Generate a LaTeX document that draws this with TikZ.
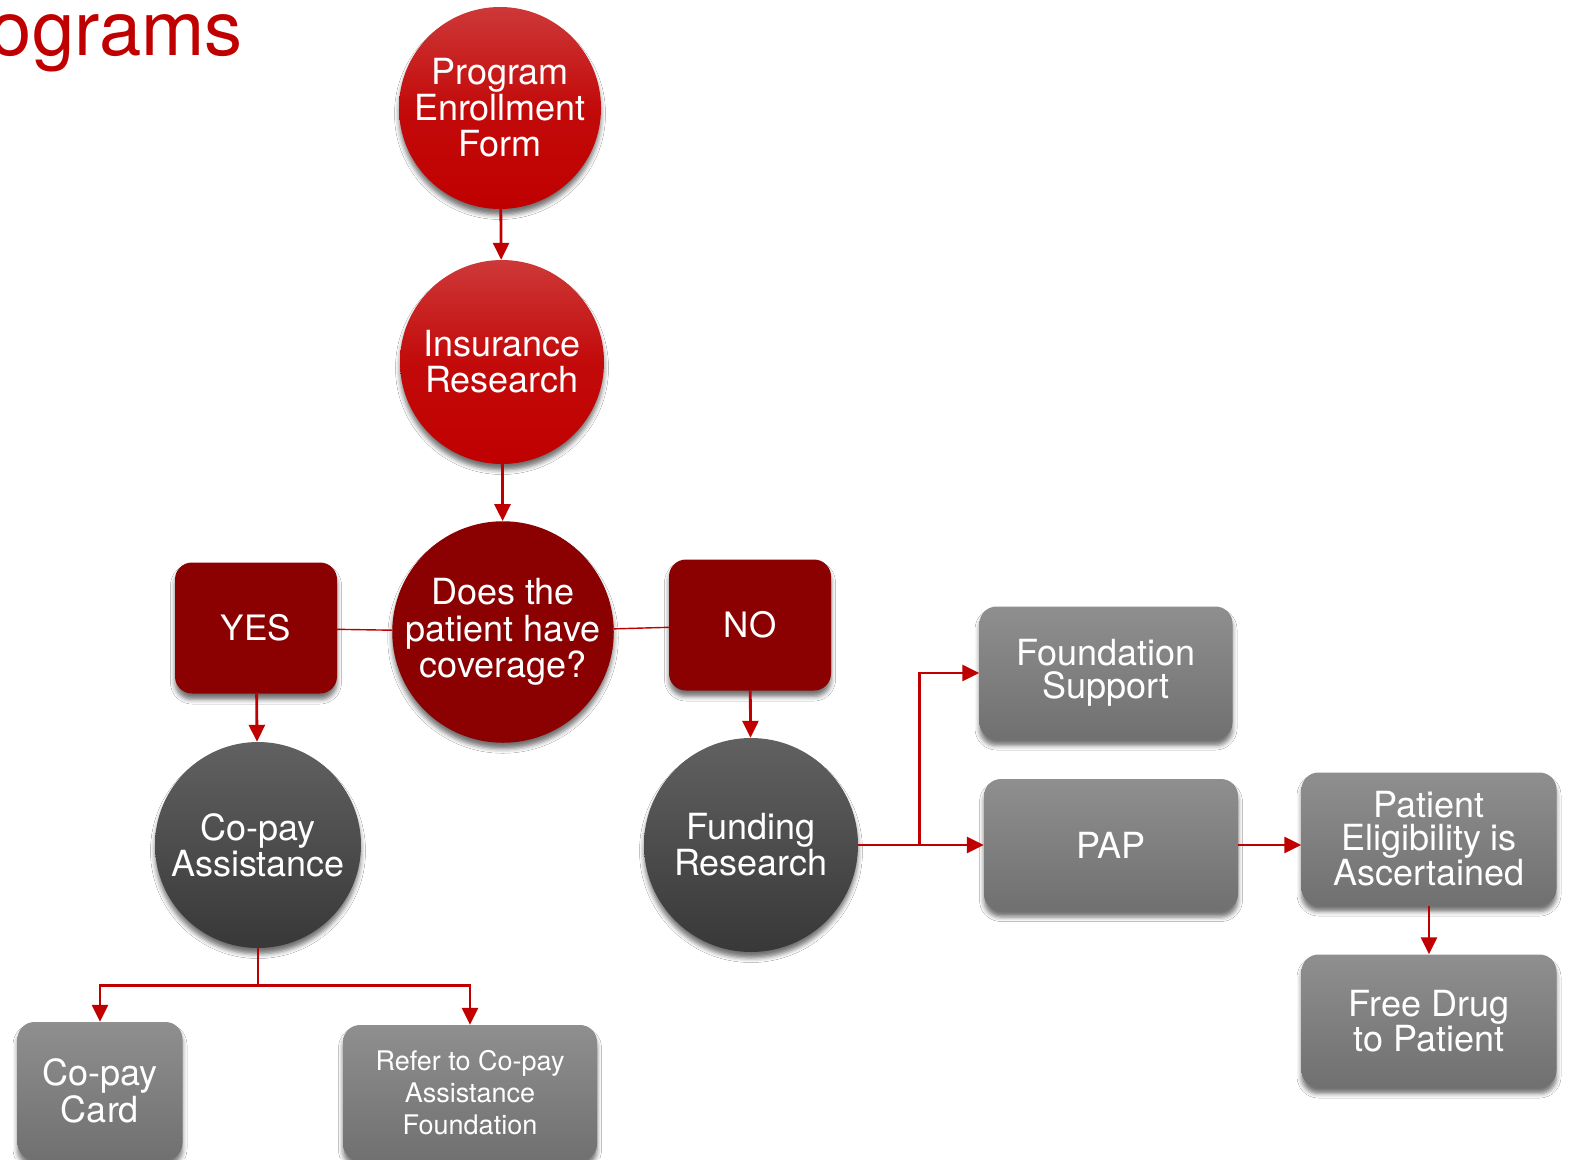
\documentclass[tikz,border=0pt]{standalone}
\usepackage{fontspec}
\setmainfont{TeX Gyre Heros}
\usetikzlibrary{arrows.meta,shadows.blur}
\definecolor{brightred}{HTML}{C00000}
\definecolor{deepred}{HTML}{8B0000}
\begin{document}
\begin{tikzpicture}[x=1pt,y=-1pt,
		shade/.style={blur shadow={shadow xshift=0pt,shadow yshift=-6pt,shadow blur radius=4.5pt,shadow opacity=55}},
		redball/.style={circle,shade,minimum size=#1,top color=brightred!78!white,bottom color=brightred,middle color=brightred!96!white,text=white,align=center,inner sep=0pt,font=\fontsize{36}{36}\selectfont},
		darkball/.style={circle,shade,minimum size=#1,fill=deepred,text=white,align=center,inner sep=0pt,font=\fontsize{36}{36.5}\selectfont},
		greyball/.style={circle,shade,minimum size=#1,top color=black!62,bottom color=black!78,text=white,align=center,inner sep=0pt,font=\fontsize{36}{36}\selectfont},
		redbox/.style={rectangle,rounded corners=17pt,shade,fill=deepred,minimum width=162pt,minimum height=131pt,text=white,font=\fontsize{35}{35}\selectfont},
		greybox/.style={rectangle,rounded corners=17pt,shade,top color=black!44,bottom color=black!56,minimum width=254pt,minimum height=133pt,text=white,align=center,font=\fontsize{36}{33}\selectfont},
		flow/.style={draw=brightred,line width=2.8pt,-{Triangle[length=17pt,width=16pt]}},
		link/.style={draw=brightred,line width=1.4pt}]
		\useasboundingbox (0,0) rectangle (1573,1159);
		\clip (0,0) rectangle (1573,1159);
		\fill[white] (0,0) rectangle (1573,1159);
		\node[anchor=base east,text=brightred,inner sep=0pt,font=\fontsize{76}{76}\selectfont] (title) at (243,55) {Programs};
		% main column
		\node[redball=202pt] (enroll) at (500,108) {Program\\Enrollment\\Form};
		\node[redball=204pt] (insur) at (502,362) {Insurance\\Research};
		\node[darkball=212pt] (cover) at (503,632) {Does the\\patient have\\coverage?};
		\node[redbox] (yes) at (256,628) {YES};
		\node[redbox] (no) at (750,625) {NO};
		\node[greyball=206pt] (copay) at (258,845) {Co-pay\\Assistance};
		\node[greyball=214pt] (fund) at (751,845) {Funding\\Research};
		% boxes
		\node[greybox,minimum width=165pt,minimum height=138pt,font=\fontsize{36}{37}\selectfont] (card) at (100,1091) {Co-pay\\Card};
		\node[greybox,minimum height=136pt,font=\fontsize{27}{32}\selectfont] (refer) at (470,1093) {Refer to Co-pay\\Assistance\\Foundation};
		\node[greybox,minimum width=253pt] (found) at (1106,673) {Foundation\\Support};
		\node[greybox,minimum height=132pt] (pap) at (1111,845) {PAP};
		\node[greybox,minimum width=255pt] (elig) at (1429,839) {Patient\\Eligibility is\\Ascertained};
		\node[greybox,minimum width=255pt] (drug) at (1429,1021) {Free Drug\\to Patient};
		% connectors
		\draw[flow] (enroll) -- (insur);
		\draw[flow] (insur) -- (cover);
		\draw[link] (yes) -- (cover);
		\draw[link] (cover) -- (no);
		\draw[flow] (yes) -- (copay);
		\draw[flow] (no) -- (fund);
		\draw[flow] (copay.south) -- ++(0,37) -| (card);
		\draw[flow] (copay.south) -- ++(0,37) -| (refer);
		\draw[flow] (fund) -- (pap);
		\draw[flow] (fund.east) -- ++(61,0) |- (found);
		\draw[flow] (pap.east) -- (pap.east -| elig.west);
		\draw[flow] (elig) -- (drug);
	\end{tikzpicture}
\end{document}
